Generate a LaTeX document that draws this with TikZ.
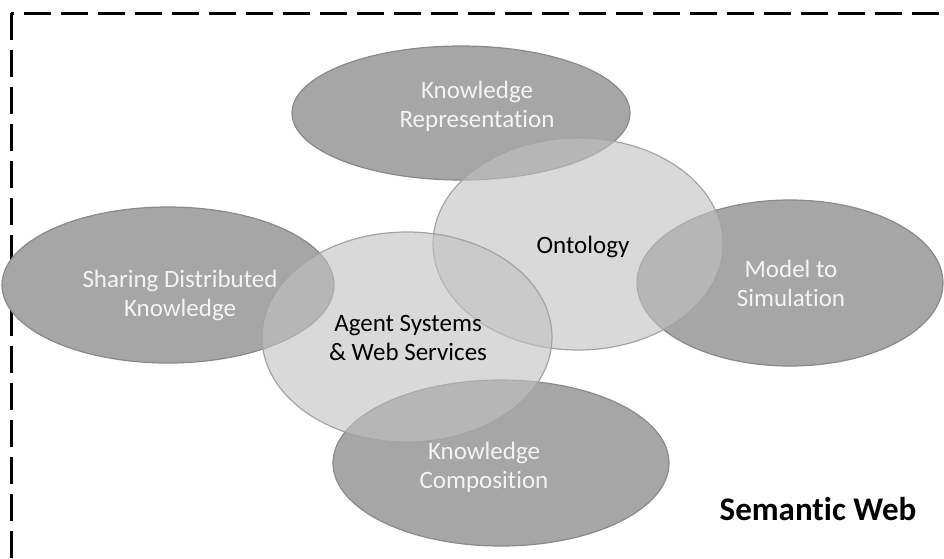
\documentclass[tikz,border=0pt]{standalone}
\usepackage{fontspec}
\setmainfont[Ligatures=NoCommon]{Carlito}
\usetikzlibrary{shapes.geometric}
\definecolor{darkfill}{HTML}{A6A6A6}
\definecolor{darkline}{HTML}{8A8A8A}
\definecolor{lightfill}{HTML}{C1C1C1}
\definecolor{lightline}{HTML}{A4A4A4}
\definecolor{whitetext}{HTML}{F4F4F4}
\tikzset{
  darkE/.style={ellipse, draw=darkline, line width=1.2pt, fill=darkfill, inner sep=0pt},
  lightE/.style={ellipse, draw=lightline, line width=1.2pt, fill=lightfill, fill opacity=0.6, inner sep=0pt},
  whitelabel/.style={text=whitetext, align=center, font=\fontsize{25}{29}\selectfont},
  blacklabel/.style={text=black, align=center, font=\fontsize{25}{29}\selectfont},
  titlelabel/.style={text=black, font=\fontsize{33}{38}\selectfont\bfseries},
  frame/.style={draw=black, line width=3pt, dash pattern=on 27pt off 10pt}
}
\begin{document}
\begin{tikzpicture}[x=1pt, y=-1pt]
\useasboundingbox (0,0) rectangle (944,558);
\fill[white] (0,0) rectangle (944,558);
\draw[frame] (11,13) rectangle (945,560.5);
% dark ellipses
\node[darkE, minimum width=338pt, minimum height=134pt] (kr) at (461,113) {};
\node[darkE, minimum width=306pt, minimum height=166pt] (ms) at (790,283) {};
\node[darkE, minimum width=332pt, minimum height=156pt] (sd) at (168,285) {};
\node[darkE, minimum width=336pt, minimum height=166pt] (kc) at (501,463) {};
% light ellipses
\node[lightE, minimum width=290pt, minimum height=212pt] (on) at (578,244) {};
\node[lightE, minimum width=290pt, minimum height=210pt] (ag) at (407,337) {};
% labels
\node[whitelabel] (krt) at (477,106.5) {Knowledge\\Representation};
\node[whitelabel] (mst) at (791,283) {Model to\\Simulation};
\node[whitelabel] (sdt) at (180,295.5) {Sharing Distributed\\Knowledge};
\node[whitelabel] (kct) at (484,467.5) {Knowledge\\Composition};
\node[blacklabel] (ont) at (583,247) {Ontology};
\node[blacklabel] (agt) at (408,338) {Agent Systems\\\& Web Services};
\node[titlelabel] (sw) at (818,509.5) {Semantic Web};
\end{tikzpicture}
\end{document}
